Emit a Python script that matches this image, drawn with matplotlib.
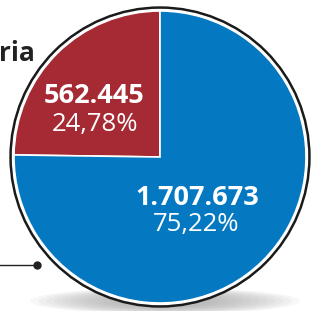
import matplotlib.pyplot as plt
from matplotlib.patches import Circle, Ellipse

# data
labels = ["562.445", "1.707.673"]
values = [562445, 1707673]
percents = ["24,78%", "75,22%"]
colors = ["#A62A33", "#0479C2"]

plt.rcParams["font.family"] = ["Open Sans", "DejaVu Sans"]

W, H = 313, 311
fig = plt.figure(figsize=(W / 100, H / 100), dpi=100)
ax = fig.add_axes([0, 0, 1, 1])

cx, cy = 160, H - 157

# soft shadow under the pie
for i in range(12):
    ax.add_patch(Ellipse((cx + 5, H - 301), 270 - i * 16, 26 - i * 1.2,
                         color="#9a9a9a", alpha=0.08, lw=0, zorder=0))

# outer rings
ax.add_patch(Circle((cx, cy), 150, color="#1a1a1a", zorder=1))
ax.add_patch(Circle((cx, cy), 147.5, color="white", zorder=2))

wedges, _ = ax.pie(values, colors=colors, startangle=90, counterclock=True,
                   center=(cx, cy), radius=146, frame=True,
                   wedgeprops=dict(edgecolor="white", linewidth=1.2))
for w in wedges:
    w.set_zorder(3)
ax.set_xlim(0, W)
ax.set_ylim(0, H)
ax.set_aspect("equal")
ax.axis("off")

# labels
ax.text(94, H - 96, labels[0], color="white", fontsize=19.5, fontweight="bold",
        ha="center", va="center", zorder=5)
ax.text(95, H - 125, percents[0], color="white", fontsize=18.5,
        ha="center", va="center", zorder=5)
ax.text(197, H - 198, labels[1], color="white", fontsize=19.5, fontweight="bold",
        ha="center", va="center", zorder=5)
ax.text(196, H - 225, percents[1], color="white", fontsize=18.5,
        ha="center", va="center", zorder=5)

# title fragment
ax.text(-1, H - 61, "ria", color="#222222", fontsize=19, fontweight="bold",
        ha="left", va="baseline")

# pointer line
ax.plot([0, 37], [H - 265, H - 265], color="#222222", lw=1, zorder=4)
ax.plot([37], [H - 265], "o", color="#222222", ms=5, zorder=4)

fig.savefig("out.png", dpi=100)
